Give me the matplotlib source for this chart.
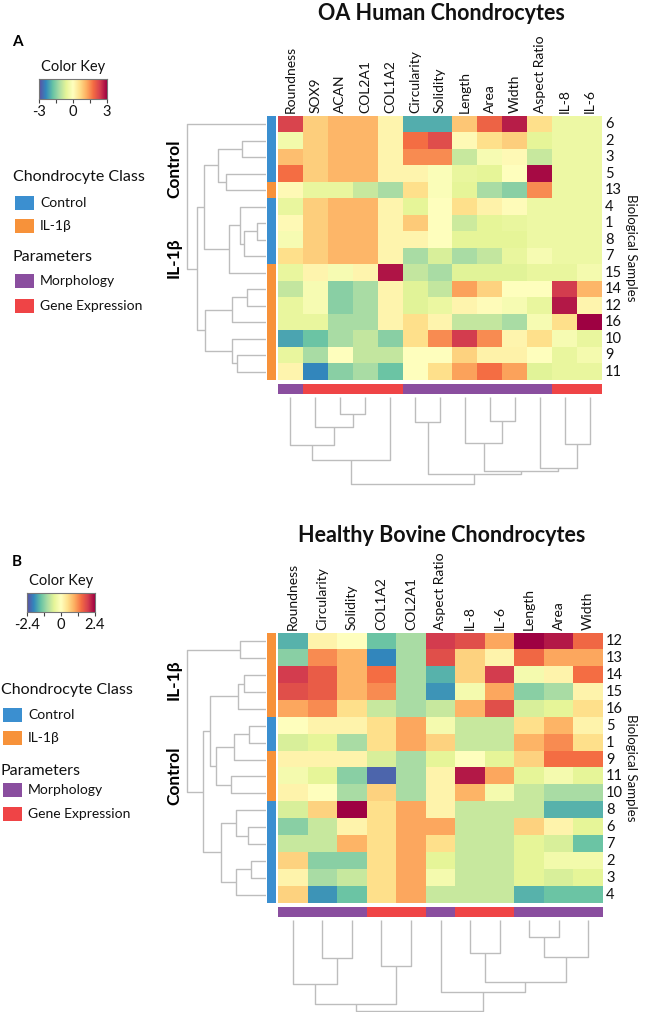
import numpy as np
import matplotlib
matplotlib.use("Agg")
import matplotlib.pyplot as plt

plt.rcParams['font.family'] = ['Lato', 'DejaVu Sans']

# ---------------- data ----------------
A_cols = ["Roundness", "SOX9", "ACAN", "COL2A1", "COL1A2", "Circularity", "Solidity",
          "Length", "Area", "Width", "Aspect Ratio", "IL-8", "IL-6"]
A_rows = ["6", "2", "3", "5", "13", "4", "1", "8", "7", "15", "14", "12", "16", "10", "9", "11"]
A_class = ["C", "C", "C", "C", "I", "C", "C", "C", "C", "I", "I", "I", "I", "I", "I", "I"]
A_param = ["M", "G", "G", "G", "G", "M", "M", "M", "M", "M", "M", "G", "G"]
A_values = [
    [2.3, 0.8, 1.1, 1.1, 0.2, -2.0, -2.0, 0.9, 1.9, 2.7, 0.6, -0.4, -0.4],
    [-0.3, 0.8, 1.1, 1.1, 0.2, 1.8, 2.2, 0.1, 0.6, 0.8, -0.6, -0.4, -0.4],
    [1.0, 0.8, 1.1, 1.1, 0.2, 1.5, 1.5, -0.9, -0.2, 0.1, -0.9, -0.4, -0.4],
    [1.8, 0.8, 1.1, 1.1, 0.2, 0.2, -0.1, -0.5, -0.6, 0.0, 2.9, -0.4, -0.4],
    [0.1, -0.5, -0.5, -0.9, -1.2, 0.6, -0.1, -0.6, -1.2, -1.5, 1.5, -0.4, -0.4],
    [-0.5, 0.8, 1.1, 1.1, 0.2, -0.6, 0.0, 0.6, 0.25, 0.05, -0.4, -0.4, -0.4],
    [0.1, 0.8, 1.1, 1.1, 0.2, 0.85, 0.0, -0.85, -0.6, -0.5, -0.4, -0.4, -0.4],
    [-0.2, 0.8, 1.1, 1.1, 0.2, 0.2, 0.0, -0.6, -0.6, -0.6, -0.4, -0.4, -0.4],
    [0.6, 0.8, 1.1, 1.1, 0.2, -1.2, -0.75, -1.2, -0.95, -0.5, -0.2, -0.4, -0.4],
    [-0.5, 0.2, -0.2, 0.2, 2.8, -0.95, -1.2, -0.65, -0.65, -0.65, -0.5, -0.5, -0.25],
    [-0.95, -0.2, -1.5, -1.2, 0.2, -0.65, -0.95, 1.3, 0.75, 0.0, 0.0, 2.4, 1.1],
    [-0.5, -0.2, -1.5, -1.2, 0.2, -0.65, -0.45, 0.2, 0.05, -0.2, -0.5, 2.75, 0.2],
    [-0.5, -0.5, -1.2, -1.2, 0.2, 0.6, 0.2, -0.95, -0.95, -1.2, -0.2, 0.6, 3.0],
    [-2.1, -1.75, -1.2, -0.95, -1.5, 0.6, 1.5, 2.4, 1.5, 0.2, 0.6, -0.2, -0.5],
    [-0.5, -1.2, 0.0, -0.95, -0.95, 0.0, 0.0, 0.75, 0.25, 0.25, 0.0, -0.5, -0.25],
    [0.2, -2.4, -1.5, -1.2, -1.75, 0.0, 0.6, 1.3, 1.8, 1.3, -0.65, -0.5, -0.5],
]
# trees: leaf = position index, node = (left, right, merge height)
A_row_tree = (0, (((((1, 2, 24), (3, 4, 40), 48),
                    ((((5, ((6, 7, 9), 8, 22), 26)), 9, 37)), 62),
                   ((((10, 11, 19), 12, 34), (13, (14, 15, 29), 34), 61)), 69)), 79)
A_col_tree = ((((0, (1, (2, 3, 17), 30), 48), 4, 63),
               ((5, 6, 25), ((7, (8, 9, 24), 46), (10, (11, 12, 47), 71), 74), 77), 87))

B_cols = ["Roundness", "Circularity", "Solidity", "COL1A2", "COL2A1", "Aspect Ratio",
          "IL-8", "IL-6", "Length", "Area", "Width"]
B_rows = ["12", "13", "14", "15", "16", "5", "1", "9", "11", "10", "8", "6", "7", "2", "3", "4"]
B_class = ["I", "I", "I", "I", "I", "C", "C", "I", "I", "I", "C", "C", "C", "C", "C", "C"]
B_param = ["M", "M", "M", "G", "G", "M", "G", "G", "M", "M", "M"]
B_values = [
    [-1.56, 0.17, 0.0, -1.39, -0.96, 1.92, 1.73, 1.01, 2.4, 2.21, 1.49],
    [-1.2, 1.2, 0.89, -1.92, -0.96, 1.73, 0.6, 0.17, 1.49, 1.01, 1.01],
    [1.92, 1.61, 0.89, 1.44, -0.96, -1.56, 0.6, 1.92, -0.19, 0.17, 1.44],
    [1.73, 1.61, 0.89, 1.2, -0.96, -1.8, -0.19, 1.01, -1.2, -0.96, 0.17],
    [1.01, 1.2, 0.48, -0.72, -0.96, -0.72, 0.89, 1.73, -0.6, -0.48, 0.48],
    [0.0, 0.17, 0.17, 0.48, 1.01, -0.19, -0.72, -0.72, 0.48, 0.89, 0.17],
    [-0.6, -0.48, -0.96, 0.48, 1.01, 0.6, -0.72, -0.72, 0.89, 1.2, 0.48],
    [0.17, 0.17, 0.17, -0.6, -0.96, -0.48, 0.0, -0.48, 0.6, 1.44, 1.44],
    [-0.19, -0.48, -1.2, -2.2, -0.96, 0.17, 2.21, 1.01, -0.48, -0.19, -0.48],
    [0.17, 0.0, -0.96, 0.6, -0.96, 0.17, 0.89, -0.19, -0.72, -0.96, -0.96],
    [-0.6, 0.6, 2.4, 0.48, 1.01, 0.17, -0.72, -0.72, -0.72, -1.56, -1.56],
    [-1.2, -0.72, 0.17, 0.48, 1.01, 1.01, -0.72, -0.72, 0.6, 0.17, -0.48],
    [-0.72, -0.72, 0.89, 0.48, 1.01, 0.48, -0.72, -0.72, -0.48, -0.6, -1.39],
    [0.6, -1.2, -1.2, 0.48, 1.01, -0.48, -0.72, -0.72, -0.48, -0.24, -0.24],
    [0.17, -0.96, -0.72, 0.48, 1.01, -0.19, -0.72, -0.72, -0.48, -0.6, -0.48],
    [0.6, -1.8, -1.39, 0.48, 1.01, -0.72, -0.72, -0.72, -1.56, -1.39, -1.39],
]
B_row_tree = ((0, 1, 26),
              ((((2, 3, 22), 4, 28), (((5, 6, 17), 7, 32), (8, 9, 35), 50), 56),
               ((10, (11, 12, 18), 30), ((13, 14, 15), 15, 30), 45), 63), 79)
B_col_tree = ((((0, (1, 2, 38), 64), (3, 4, 46), 84),
               (5, ((6, 7, 33), ((8, 9, 17), 10, 37), 62), 72), 91))

class_colors = {"C": "#3b8fd0", "I": "#f7923a"}
param_colors = {"M": "#8a4e9f", "G": "#ef4446"}
dendro_color = "#bdbdbd"

# ---------------- figure ----------------
W, H = 649, 1013
fig = plt.figure(figsize=(W / 100, H / 100), dpi=100)


def add_ax(x0, y0, x1, y1):
    ax = fig.add_axes([x0 / W, 1 - y1 / H, (x1 - x0) / W, (y1 - y0) / H])
    return ax


def ftext(x, y, s, **kw):
    fig.text(x / W, 1 - y / H, s, **kw)


def draw_tree(ax, node, orient):
    if isinstance(node, int):
        return node + 0.5, 0.0
    l, r, h = node
    pl, hl = draw_tree(ax, l, orient)
    pr, hr = draw_tree(ax, r, orient)
    if orient == "left":
        ax.plot([hl, h, h, hr], [pl, pl, pr, pr], color=dendro_color, lw=1.0,
                solid_capstyle="butt")
    else:
        ax.plot([pl, pl, pr, pr], [hl, h, h, hr], color=dendro_color, lw=1.0,
                solid_capstyle="butt")
    return (pl + pr) / 2, h


def panel(values, cols, rows, klass, param, rtree, ctree, vmax,
          hx0, hx1, hy0, hy1, rd_x0, cd_y1, title, title_y):
    nr, nc = len(rows), len(cols)
    cmap = plt.get_cmap("Spectral_r")
    ax = add_ax(hx0, hy0, hx1, hy1)
    ax.imshow(np.array(values), cmap=cmap, vmin=-vmax, vmax=vmax, aspect="auto",
              interpolation="nearest", extent=(0, nc, nr, 0))
    ax.set_xlim(0, nc)
    ax.set_ylim(nr, 0)
    ax.set_xticks([])
    ax.set_yticks([])
    for s in ax.spines.values():
        s.set_visible(False)
    cw = (hx1 - hx0) / nc
    rh = (hy1 - hy0) / nr
    for i, c in enumerate(cols):
        ftext(hx0 + cw * (i + 0.5), hy0 - 3, c, rotation=90, ha="center", va="bottom",
              fontsize=10, color="#111111")
    for j, r in enumerate(rows):
        ftext(hx1 + 3, hy0 + rh * (j + 0.5), r, ha="left", va="center", fontsize=10.5,
              color="#111111")
    ftext(631, (hy0 + hy1) / 2, "Biological Samples", rotation=-90, ha="center",
          va="center", fontsize=9.5, color="#111111")
    # row side colors
    axr = add_ax(267, hy0, 276, hy1)
    axr.imshow(np.array([[matplotlib.colors.to_rgb(class_colors[k])] for k in klass]),
               aspect="auto", extent=(0, 1, nr, 0), interpolation="nearest")
    axr.set_axis_off()
    # column side colors
    axc = add_ax(hx0, hy1 + 4, hx1, hy1 + 14)
    axc.imshow(np.array([[matplotlib.colors.to_rgb(param_colors[p]) for p in param]]),
               aspect="auto", extent=(0, nc, 1, 0), interpolation="nearest")
    axc.set_axis_off()
    # row dendrogram
    axd = add_ax(rd_x0, hy0, 266, hy1)
    draw_tree(axd, rtree, "left")
    axd.set_xlim(266 - rd_x0, 0)
    axd.set_ylim(nr, 0)
    axd.set_axis_off()
    # column dendrogram
    top = hy1 + 17
    axe = add_ax(hx0, top, hx1, cd_y1)
    draw_tree(axe, ctree, "down")
    axe.set_xlim(0, nc)
    axe.set_ylim(cd_y1 - top, 0)
    axe.set_axis_off()
    ftext((hx0 + hx1) / 2 + 1, title_y, title, ha="center", va="center",
          fontsize=15.5, fontweight="bold", color="#111111")


def color_key(x0, x1, y0, y1, vmax, labels):
    ax = add_ax(x0, y0, x1, y1)
    grad = np.linspace(-vmax, vmax, 256)[None, :]
    ax.imshow(grad, cmap="Spectral_r", aspect="auto", extent=(-vmax, vmax, 0, 1))
    ax.set_yticks([])
    ax.set_xticks(np.linspace(-vmax, vmax, 5))
    ax.set_xticklabels([labels[0], "", labels[1], "", labels[2]], fontsize=10.5)
    ax.tick_params(axis="x", length=3, width=0.8, pad=1, colors="#444444",
                   labelcolor="#111111")
    for s in ax.spines.values():
        s.set_color("#777777")
        s.set_linewidth(0.8)
    ftext((x0 + x1) / 2, y0 - 12, "Color Key", ha="center", va="center", fontsize=10.5,
          color="#111111")


def legend(x, ys):
    y_cc, y_c, y_i, y_p, y_m, y_g = ys
    ftext(x - 2, y_cc, "Chondrocyte Class", ha="left", va="center", fontsize=11.5,
          color="#111111")
    ftext(x - 2, y_p, "Parameters", ha="left", va="center", fontsize=11.5, color="#111111")
    items = [(y_c, class_colors["C"], "Control"), (y_i, class_colors["I"], "IL-1β"),
             (y_m, param_colors["M"], "Morphology"), (y_g, param_colors["G"], "Gene Expression")]
    for yy, col, lab in items:
        axp = add_ax(x, yy - 7, x + 19, yy + 7)
        axp.set_facecolor(col)
        axp.set_xticks([])
        axp.set_yticks([])
        for s in axp.spines.values():
            s.set_visible(False)
        ftext(x + 25, yy, lab, ha="left", va="center", fontsize=10, color="#111111")


# ---------------- panel A ----------------
ftext(12, 42, "A", ha="left", va="center", fontsize=11, fontweight="bold")
color_key(39, 107, 79, 99, 3, ["-3", "0", "3"])
legend(15, [177, 203, 226, 257, 281, 306])
panel(A_values, A_cols, A_rows, A_class, A_param, A_row_tree, A_col_tree, 3,
      278, 602, 116, 380, 186, 486, "OA Human Chondrocytes", 13)
ftext(174, 169, "Control", rotation=90, ha="center", va="center", fontsize=12.5,
      fontweight="bold")
ftext(174, 258, "IL-1β", rotation=90, ha="center", va="center", fontsize=12.5,
      fontweight="bold")

# ---------------- panel B ----------------
ftext(12, 562, "B", ha="left", va="center", fontsize=11, fontweight="bold")
color_key(27, 95, 593, 612, 2.4, ["-2.4", "0", "2.4"])
legend(3, [690, 715, 738, 771, 790, 814])
panel(B_values, B_cols, B_rows, B_class, B_param, B_row_tree, B_col_tree, 2.4,
      278, 603, 633, 903, 186, 1012, "Healthy Bovine Chondrocytes", 535)
ftext(174, 680, "IL-1β", rotation=90, ha="center", va="center", fontsize=12.5,
      fontweight="bold")
ftext(174, 776, "Control", rotation=90, ha="center", va="center", fontsize=12.5,
      fontweight="bold")

fig.savefig("out.png", dpi=100, facecolor="white")
